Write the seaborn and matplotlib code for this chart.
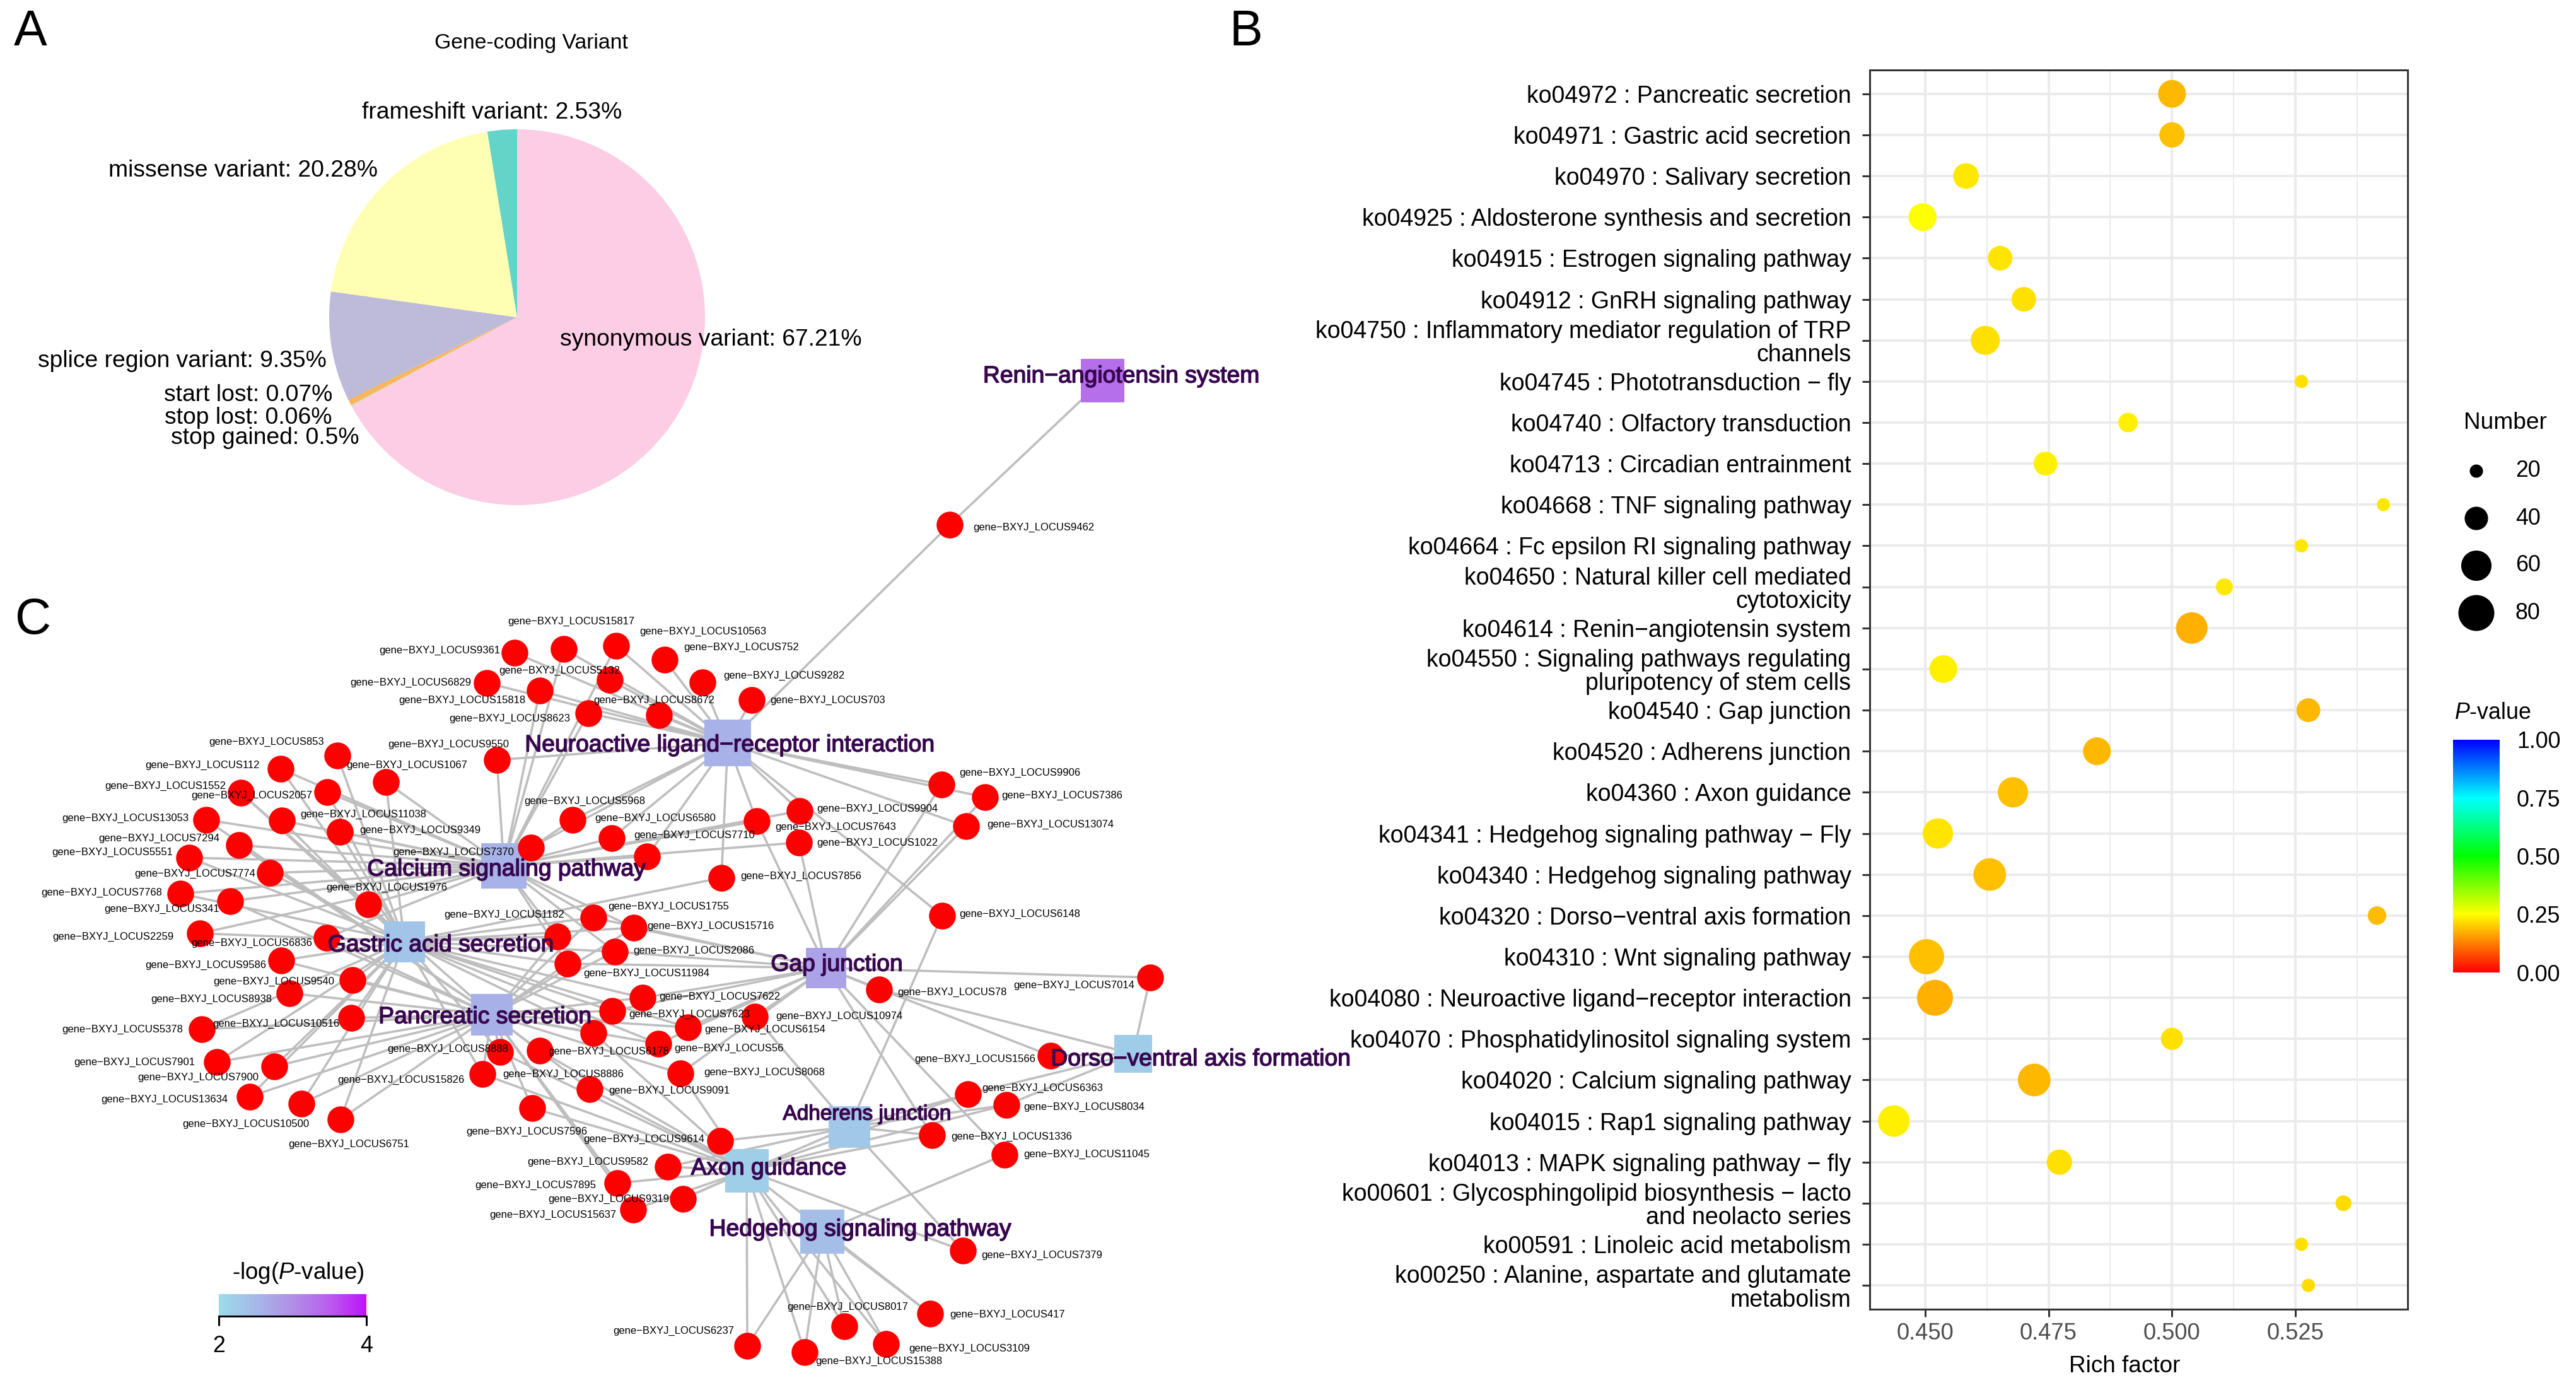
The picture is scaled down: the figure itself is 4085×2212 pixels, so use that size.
import matplotlib
matplotlib.use('Agg')
import matplotlib.pyplot as plt
import matplotlib.patheffects as pe
from matplotlib.colors import LinearSegmentedColormap, Normalize
from matplotlib.cm import ScalarMappable
import pandas as pd
import seaborn as sns

# Panel A: pie
variant_names = ['synonymous variant', 'start lost', 'stop gained', 'stop lost',
                 'splice region variant', 'missense variant', 'frameshift variant']
variant_share = [67.21, 0.07, 0.5, 0.06, 9.35, 20.28, 2.53]
variant_colors = ['#FCCDE5', '#B3DE69', '#FDB462', '#80B1D3', '#BEBADA', '#FFFFB3', '#64D3C8']

# Panel B: enrichment dots, top row first
ko_terms = ['ko04972 : Pancreatic secretion', 'ko04971 : Gastric acid secretion',
            'ko04970 : Salivary secretion', 'ko04925 : Aldosterone synthesis and secretion',
            'ko04915 : Estrogen signaling pathway', 'ko04912 : GnRH signaling pathway',
            'ko04750 : Inflammatory mediator regulation of TRP\nchannels',
            'ko04745 : Phototransduction − fly', 'ko04740 : Olfactory transduction',
            'ko04713 : Circadian entrainment', 'ko04668 : TNF signaling pathway',
            'ko04664 : Fc epsilon RI signaling pathway',
            'ko04650 : Natural killer cell mediated\ncytotoxicity',
            'ko04614 : Renin−angiotensin system',
            'ko04550 : Signaling pathways regulating\npluripotency of stem cells',
            'ko04540 : Gap junction', 'ko04520 : Adherens junction', 'ko04360 : Axon guidance',
            'ko04341 : Hedgehog signaling pathway − Fly', 'ko04340 : Hedgehog signaling pathway',
            'ko04320 : Dorso−ventral axis formation', 'ko04310 : Wnt signaling pathway',
            'ko04080 : Neuroactive ligand−receptor interaction',
            'ko04070 : Phosphatidylinositol signaling system', 'ko04020 : Calcium signaling pathway',
            'ko04015 : Rap1 signaling pathway', 'ko04013 : MAPK signaling pathway − fly',
            'ko00601 : Glycosphingolipid biosynthesis − lacto\nand neolacto series',
            'ko00591 : Linoleic acid metabolism',
            'ko00250 : Alanine, aspartate and glutamate\nmetabolism']
rich_factor = [0.500, 0.500, 0.4583, 0.4495, 0.4652, 0.470, 0.4622, 0.5262, 0.4911, 0.4744,
               0.5428, 0.5262, 0.5106, 0.504, 0.4537, 0.5276, 0.4848, 0.4678, 0.4526, 0.4631,
               0.5415, 0.4503, 0.452, 0.500, 0.4721, 0.4437, 0.4772, 0.5347, 0.5262, 0.5276]
gene_number = [52, 45, 46, 52, 43, 43, 56, 18, 31, 41, 16, 18, 26, 64, 52, 41, 52, 60, 60, 68,
               29, 77, 87, 37, 68, 64, 45, 24, 18, 16]
p_value = [.18, .19, .23, .25, .225, .22, .22, .22, .235, .235, .23, .23, .23, .175, .235,
           .18, .18, .19, .225, .19, .185, .19, .175, .22, .18, .235, .22, .215, .22, .215]
number_legend = [20, 40, 60, 80]
pvalue_ticks = [0.0, 0.25, 0.5, 0.75, 1.0]

# Panel C: network, coordinates are the layout
pathway_keys = ['N', 'C', 'G', 'P', 'J', 'D', 'A', 'X', 'H', 'R']
pathway_names = ['Neuroactive ligand−receptor interaction', 'Calcium signaling pathway',
                 'Gastric acid secretion', 'Pancreatic secretion', 'Gap junction',
                 'Dorso−ventral axis formation', 'Adherens junction', 'Axon guidance',
                 'Hedgehog signaling pathway', 'Renin−angiotensin system']
pathway_x = [1154, 799, 641, 780, 1310, 1797, 1347, 1184, 1304, 1748]
pathway_y = [1178, 1373, 1493, 1609, 1535, 1671, 1787, 1856, 1953, 603]
pathway_box = [74, 72, 65, 66, 64, 60, 66, 69, 70, 69]
pathway_logp = [2.58, 2.56, 2.34, 2.6, 2.76, 2.22, 2.28, 2.2, 2.42, 3.32]
pathway_label_x = [1157, 803, 699, 769, 1327, 1904, 1375, 1219, 1364, 1778]
pathway_label_y = [1182, 1379, 1499, 1613, 1530, 1680, 1767, 1853, 1950, 597]

gene_ids = [9361, 15817, 10563, 752, 5132, 6829, 15818, 8623, 8672, 9282, 703, 9462,
            853, 112, 1552, 2057, 1067, 9550, 13053, 11038, 9349, 7294, 5551, 7774, 7768, 341,
            1976, 2259, 6836, 9586, 9540, 8938, 10516, 5378, 7901, 7900, 13634, 10500, 6751,
            7370, 5968, 6580, 7710, 9904, 7643, 1022, 9906, 7386, 13074, 7856, 6148, 7014, 78,
            1755, 15716, 1182, 2086, 11984, 7622, 7623, 6154, 6178, 56, 10974, 8068,
            8888, 8886, 15826, 9091, 7596, 9614, 9582, 7895, 9319, 15637,
            1566, 6363, 8034, 1336, 11045, 7379, 8017, 417, 3109, 15388, 6237]
gene_x = [816, 894, 977, 1054, 967, 772, 856, 933, 1045, 1114, 1192, 1506,
          535, 445, 382, 519, 612, 788, 327, 447, 539, 379, 300, 428, 286, 365,
          584, 317, 518, 446, 559, 459, 557, 320, 344, 435, 396, 478, 540,
          842, 908, 970, 1026, 1268, 1200, 1267, 1493, 1562, 1532, 1144, 1494, 1824, 1394,
          941, 1005, 884, 975, 900, 1019, 971, 1091, 941, 1044, 1197, 1079,
          793, 856, 765, 935, 844, 1142, 1059, 979, 1083, 1004,
          1666, 1535, 1596, 1478, 1593, 1527, 1339, 1475, 1405, 1276, 1185]
gene_y = [1035, 1029, 1024, 1046, 1078, 1083, 1095, 1131, 1134, 1082, 1110, 832,
          1198, 1219, 1257, 1256, 1240, 1205, 1300, 1301, 1319, 1340, 1360, 1384, 1417, 1429,
          1434, 1480, 1487, 1523, 1554, 1575, 1614, 1632, 1684, 1691, 1739, 1750, 1775,
          1344, 1300, 1329, 1358, 1286, 1302, 1336, 1244, 1264, 1310, 1392, 1452, 1550, 1569,
          1455, 1471, 1485, 1509, 1528, 1582, 1603, 1629, 1638, 1655, 1612, 1702,
          1668, 1666, 1703, 1727, 1757, 1809, 1850, 1876, 1901, 1918,
          1674, 1735, 1752, 1800, 1831, 1983, 2103, 2083, 2131, 2144, 2134]
gene_pathways = ['N', 'NC', 'NC', 'N', 'N', 'N', 'NC', 'NC', 'N', 'N', 'N', 'RN',
                 'G', 'CG', 'GP', 'CG', 'CG', 'NC', 'CP', 'CG', 'CG', 'CP', 'CG', 'CG', 'CG', 'CP',
                 'CG', 'CG', 'CGP', 'GP', 'GP', 'P', 'GP', 'GP', 'GP', 'GP', 'GP', 'GP', 'GP',
                 'CN', 'CN', 'CN', 'CN', 'NC', 'NCJ', 'CJ', 'NJ', 'NJ', 'NJ', 'NG', 'NA', 'JD', 'JD',
                 'CGPJ', 'CGPJ', 'CGP', 'CGPJ', 'CGPJ', 'GPJ', 'GPJ', 'GPJ', 'GPX', 'GPJ', 'JA', 'JPX',
                 'GPX', 'PX', 'GPX', 'PX', 'PX', 'XA', 'XA', 'PX', 'XA', 'PX',
                 'JD', 'DAX', 'DAX', 'JAX', 'JH', 'AX', 'HX', 'HX', 'HX', 'HX', 'HX']
gene_label_x = [793, 805, 1014, 1084, 791, 747, 833, 904, 941, 1147, 1221, 1543,
                514, 412, 358, 495, 549, 807, 299, 476, 570, 348, 274, 405, 257, 348,
                517, 276, 495, 422, 530, 431, 337, 290, 309, 410, 361, 490, 457,
                815, 831, 943, 1005, 1295, 1229, 1295, 1521, 1588, 1565, 1174, 1521, 1799, 1423,
                964, 1026, 704, 1004, 925, 1045, 997, 1117, 869, 1069, 1230, 1116,
                614, 797, 737, 965, 739, 925, 1028, 945, 1061, 977,
                1642, 1557, 1623, 1508, 1623, 1556, 1248, 1506, 1441, 1293, 1164]
gene_label_y = [1031, 985, 1001, 1026, 1063, 1082, 1110, 1139, 1110, 1071, 1110, 836,
                1176, 1213, 1246, 1261, 1213, 1180, 1297, 1291, 1316, 1329, 1351, 1385, 1415, 1441,
                1407, 1485, 1495, 1530, 1556, 1584, 1623, 1632, 1684, 1708, 1743, 1782, 1814,
                1351, 1270, 1297, 1324, 1282, 1311, 1336, 1225, 1261, 1307, 1389, 1449, 1562, 1573,
                1437, 1468, 1450, 1507, 1543, 1580, 1608, 1632, 1667, 1662, 1611, 1700,
                1663, 1703, 1712, 1729, 1794, 1806, 1842, 1879, 1901, 1926,
                1679, 1725, 1755, 1802, 1830, 1990, 2072, 2084, 2138, 2158, 2110]
right_aligned = {9361, 6829, 15818, 8623, 853, 112, 1552, 2057, 9550, 13053, 7294, 5551, 7774,
                 7768, 341, 2259, 6836, 9586, 9540, 8938, 5378, 7901, 7900, 13634, 10500,
                 7370, 7014, 15826, 9582, 7895, 9319, 15637, 1566, 6237}

sns.set_theme(style='white')
plt.rcParams['font.family'] = ['Liberation Sans', 'DejaVu Sans']
plt.rcParams['mathtext.fontset'] = 'custom'
plt.rcParams['mathtext.it'] = 'Liberation Sans:italic'
plt.rcParams['mathtext.rm'] = 'Liberation Sans'

W, H = 4086, 2212
PX = 72 / 300  # points per output pixel
fig = plt.figure(figsize=(W / 300, H / 300), dpi=300)
fig.patch.set_facecolor('white')


def px_axes(x0, y0, x1, y1, **kw):
    return fig.add_axes([x0 / W, 1 - y1 / H, (x1 - x0) / W, (y1 - y0) / H], **kw)


# Panel A
ax_pie = px_axes(820 - 298, 503 - 298, 820 + 298, 503 + 298)
ax_pie.pie(variant_share, colors=variant_colors, startangle=90, counterclock=False, radius=1,
           wedgeprops={'linewidth': 0})
ax_pie.set_xlim(-1, 1)
ax_pie.set_ylim(-1, 1)

# Panel B
dots = pd.DataFrame({'term': ko_terms, 'rich': rich_factor, 'number': gene_number, 'p': p_value})
p_cmap = LinearSegmentedColormap.from_list('pval', ['#FF0000', '#FFFF00', '#00FF00', '#00FFFF', '#0000FF'])
size_range = ((21 * PX) ** 2, (57 * PX) ** 2)

ax_b = px_axes(2965, 111, 3818, 2076)
ax_b.set_axisbelow(True)
sns.scatterplot(data=dots, x='rich', y='term', size='number', sizes=size_range, size_norm=(20, 80),
                hue='p', palette=p_cmap, hue_norm=(0, 1), linewidth=0, legend=False, ax=ax_b, zorder=3)
ax_b.set_xlim(0.4388, 0.5477)
ax_b.set_ylim(29.58, -0.58)
ax_b.set_xticks([0.45, 0.475, 0.5, 0.525])
ax_b.set_xticklabels(['0.450', '0.475', '0.500', '0.525'])
ax_b.set_xticks([0.4625, 0.4875, 0.5125, 0.5375], minor=True)
ax_b.grid(which='major', color='#EBEBEB', linewidth=4 * PX)
ax_b.grid(which='minor', axis='x', color='#EBEBEB', linewidth=2 * PX)
ax_b.tick_params(axis='x', which='major', bottom=True, length=12 * PX, width=3 * PX, color='#333333',
                 labelsize=8.7, labelcolor='#4D4D4D', pad=2.2)
ax_b.tick_params(axis='x', which='minor', bottom=False)
ax_b.tick_params(axis='y', left=True, length=12 * PX, width=3 * PX, color='#333333',
                 labelsize=9.0, labelcolor='black', pad=4.2)
for lab in ax_b.get_yticklabels():
    lab.set_linespacing(1.05)
ax_b.set_xlabel('Rich factor', fontsize=8.85, color='black', va='center')
ax_b.xaxis.set_label_coords((3369 - 2965) / 853, -(2167 - 2076) / 1965)
ax_b.set_ylabel('')
for spine in ax_b.spines.values():
    spine.set_visible(True)
    spine.set_color('#333333')
    spine.set_linewidth(3 * PX)

# P-value colour bar
cax = px_axes(3890, 1173, 3964, 1542)
cb = fig.colorbar(ScalarMappable(Normalize(0, 1), p_cmap), cax=cax)
cb.outline.set_visible(False)
cb.set_ticks(pvalue_ticks)
cb.set_ticklabels(['%.2f' % v for v in pvalue_ticks])
cax.tick_params(left=True, right=True, direction='in', color='white', length=15 * PX,
                width=1 * PX, labelsize=8.6, pad=6.5, labelcolor='black')

# -log(P) colour bar
logp_cmap = LinearSegmentedColormap.from_list(
    'logp', ['#9ADCE8', '#A6B8E8', '#B08EE6', '#B95DEE', '#BE12F8'])
lax = px_axes(347, 2052, 581, 2087)
lb = fig.colorbar(ScalarMappable(Normalize(2, 4), logp_cmap), cax=lax, orientation='horizontal')
lb.outline.set_visible(False)
lb.set_ticks([2, 4])
lax.spines['bottom'].set_visible(True)
lax.spines['bottom'].set_linewidth(3 * PX)
lax.spines['bottom'].set_color('black')
lax.tick_params(axis='x', bottom=True, length=15 * PX, width=3 * PX, color='black',
                labelsize=8.6, pad=3.5, labelcolor='black')

# Overlay in picture pixels for the network and free text
ov = px_axes(0, 0, W, H)
ov.set_xlim(0, W)
ov.set_ylim(H, 0)
ov.axis('off')
ov.patch.set_alpha(0)

path_pos = dict(zip(pathway_keys, zip(pathway_x, pathway_y)))
for gx, gy, links in zip(gene_x, gene_y, gene_pathways):
    for key in links:
        px, py = path_pos[key]
        ov.plot([gx, px], [gy, py], color='#BEBEBE', linewidth=3.6 * PX, zorder=1,
                solid_capstyle='butt')

pathways = pd.DataFrame({'x': pathway_x, 'y': pathway_y, 'logp': pathway_logp,
                         's': [(b * PX) ** 2 for b in pathway_box]})
sns.scatterplot(data=pathways, x='x', y='y', hue='logp', palette=logp_cmap, hue_norm=(2, 4),
                marker='s', s=pathways['s'].values, linewidth=0, legend=False, ax=ov, zorder=2)
genes = pd.DataFrame({'x': gene_x, 'y': gene_y})
sns.scatterplot(data=genes, x='x', y='y', color='#FF0000', s=(42.5 * PX) ** 2, linewidth=0,
                legend=False, ax=ov, zorder=3)
ov.set_xlim(0, W)
ov.set_ylim(H, 0)
ov.set_xlabel('')
ov.set_ylabel('')

for gid, lx, ly in zip(gene_ids, gene_label_x, gene_label_y):
    ov.text(lx, ly, 'gene−BXYJ_LOCUS%d' % gid, fontsize=4.0, color='black', va='center',
            ha='right' if gid in right_aligned else 'left', zorder=4)

stroke = [pe.withStroke(linewidth=0.35, foreground='#38064F')]
for name, lx, ly in zip(pathway_names, pathway_label_x, pathway_label_y):
    ov.text(lx, ly, name, fontsize=8.0 if name == 'Adherens junction' else 8.95, color='#38064F',
            ha='center', va='center', zorder=5, path_effects=stroke)

# Number legend
ov.text(3907, 670, 'Number', fontsize=8.9, ha='left', va='center', color='black')
legend_y = [747, 822, 897, 972]
sns.scatterplot(x=[3927] * 4, y=legend_y, size=number_legend, sizes=size_range, size_norm=(20, 80),
                color='black', linewidth=0, legend=False, ax=ov)
ov.set_xlim(0, W)
ov.set_ylim(H, 0)
for value, ly in zip(number_legend, legend_y):
    ov.text(3989, ly, str(value), fontsize=8.6, ha='left', va='center', color='black')
ov.text(3892, 1131, r'$\mathit{P}$-value', fontsize=8.6, ha='left', va='center', color='black')
ov.text(473, 2019, r'-log($\mathit{P}$-value)', fontsize=8.8, ha='center', va='center', color='black')

# Pie labels
pie_labels = ['Gene-coding Variant', 'frameshift variant: 2.53%', 'missense variant: 20.28%',
              'splice region variant: 9.35%', 'start lost: 0.07%', 'stop lost: 0.06%',
              'stop gained: 0.5%', 'synonymous variant: 67.21%']
pie_label_x = [689, 574, 172, 60, 260, 261, 271, 888]
pie_label_y = [69, 178, 271, 573, 626, 662, 694, 539]
pie_label_size = [8.1, 8.95, 8.95, 8.95, 8.95, 8.95, 8.95, 8.95]
for text, lx, ly, fs in zip(pie_labels, pie_label_x, pie_label_y, pie_label_size):
    ov.text(lx, ly, text, fontsize=fs, ha='left', va='center', color='black')

# Panel letters
for letter, lx, ly in zip('ABC', [22, 1950, 24], [52, 52, 984]):
    ov.text(lx, ly, letter, fontsize=19, ha='left', va='center', color='black')

fig.savefig('out.png', dpi=300, facecolor='white')
